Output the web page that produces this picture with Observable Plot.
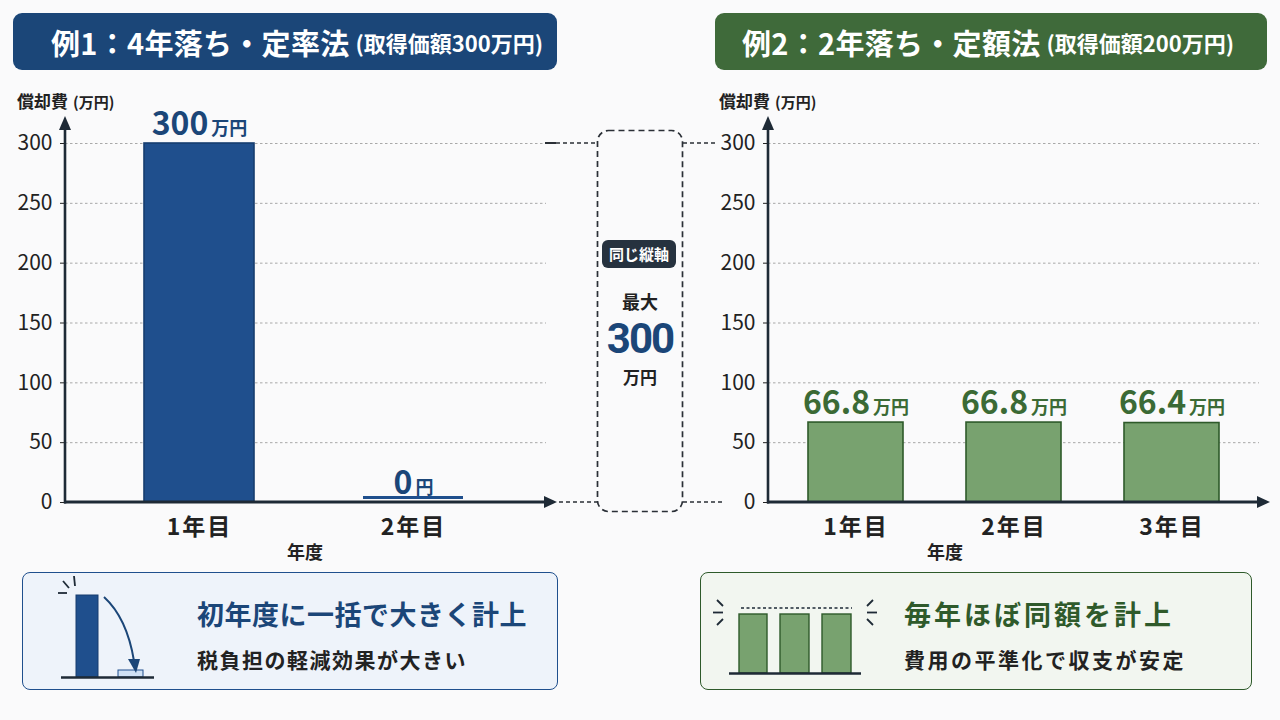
<!DOCTYPE html>
<html lang="ja">
<head>
<meta charset="utf-8">
<script src="https://cdn.jsdelivr.net/npm/d3@7"></script>
<script src="https://cdn.jsdelivr.net/npm/@observablehq/plot@0.6"></script>
<style>
  html, body { margin: 0; padding: 0; }
  body { width: 1280px; height: 720px; position: relative; overflow: hidden; background: #fafafb;
         font-family: "Noto Sans CJK JP", "Noto Sans", sans-serif; color: #222; }
  .abs { position: absolute; }
  .banner { position: absolute; top: 13px; height: 57px; border-radius: 9px; color: #fff; font-weight: 700;
            display: flex; align-items: center; box-sizing: border-box; white-space: nowrap; }
  .banner .main { font-size: 29px; letter-spacing: 0.3px; }
  .banner .sub { font-size: 22px; margin-left: 6px; }
  .ylab { position: absolute; top: 88px; font-weight: 700; font-size: 17px; white-space: nowrap; color: #222; }
  .ylab span { font-size: 15px; margin-left: 5px; }
  .xlab { position: absolute; top: 538px; font-weight: 700; font-size: 18px; color: #222; transform: translateX(-50%); }
  .card { position: absolute; top: 572px; height: 118px; border-radius: 8px; box-sizing: border-box; border: 1.5px solid; }
  .card .h { position: absolute; top: 21px; font-size: 27px; font-weight: 700; white-space: nowrap; }
  .card .s { position: absolute; top: 71px; font-size: 21px; font-weight: 700; white-space: nowrap; color: #222; }
  #mid { position: absolute; left: 597px; top: 130px; width: 86px; height: 382px; box-sizing: border-box; text-align: center; }
  #mid div { line-height: 1; }
  #mid .badge { position: absolute; left: 5px; top: 110px; width: 74px; height: 28px; background: #26323f; color: #fff;
                border-radius: 6px; font-size: 15px; font-weight: 700; line-height: 28px; }
  #mid .t1 { position: absolute; left: 0; right: 0; top: 162px; font-size: 18px; font-weight: 700; }
  #mid .big { position: absolute; left: 0; right: 0; top: 188px; font-size: 42px; font-weight: 700; color: #1b4678;
              letter-spacing: -2px; font-family: Roboto, "Noto Sans", sans-serif; }
  #mid .t2 { position: absolute; left: 0; right: 0; top: 237.5px; font-size: 17px; font-weight: 700; }
</style>
</head>
<body>
<script>
// ---- data ----
const yearsLeft = ["1年目", "2年目"];
const valuesLeft = [300, 0];
const labelsLeft = ["300万円", "0円"];
const yearsRight = ["1年目", "2年目", "3年目"];
const valuesRight = [66.8, 66.8, 66.4];
const labelsRight = ["66.8万円", "66.8万円", "66.4万円"];
const yTicks = [0, 50, 100, 150, 200, 250, 300];
const yMax = 300;

const FONT = '"Noto Sans CJK JP", "Noto Sans", sans-serif';
const AXIS = "#1e2a36";

function addEl(html) {
  const t = document.createElement("template");
  t.innerHTML = html.trim();
  const el = t.content.firstChild;
  document.body.appendChild(el);
  return el;
}

function makeChart(cfg) {
  const data = cfg.years.map((y, i) => ({year: y, value: cfg.values[i], label: cfg.labels[i]}));
  const plot = Plot.plot({
    width: cfg.width, height: 460,
    marginTop: 33, marginBottom: 68, marginLeft: cfg.marginLeft, marginRight: cfg.marginRight,
    style: {background: "transparent", fontFamily: FONT, overflow: "visible"},
    x: {domain: cfg.years, paddingInner: cfg.padIn, paddingOuter: cfg.padOut, label: null},
    y: {domain: [0, yMax], label: null},
    marks: [
      Plot.ruleY(yTicks.filter(d => d > 0), {stroke: "#a8a8a8", strokeDasharray: "2.5,2.5", strokeWidth: 1}),
      Plot.barY(data.filter(d => d.value > 0), {x: "year", y: "value", fill: cfg.fill, stroke: cfg.stroke, strokeWidth: 1.6}),
      Plot.tickY(data.filter(d => d.value === 0), {x: "year", y: "value", stroke: cfg.fill, strokeWidth: 3, inset: 5, dy: -5}),
      Plot.axisY({ticks: yTicks, tickSize: 5, tickPadding: 8, fontSize: 21, color: "#222", tickFormat: d => d}),
      Plot.axisX({tickSize: 0, tickPadding: 16, fontSize: 23, fontWeight: 700, color: "#222"}),
      Plot.text(data, {x: "year", y: "value", text: "label", dy: -9, lineAnchor: "bottom", fill: cfg.labelColor, fontWeight: 700, fontSize: 32})
    ]
  });
  plot.style.position = "absolute";
  plot.style.left = cfg.left + "px";
  plot.style.top = cfg.top + "px";
  document.body.appendChild(plot);

  // x tick labels: a little letter spacing like the reference
  d3.select(plot).selectAll('g[aria-label="x-axis tick label"] text').style("letter-spacing", "2px");

  // split value labels into number + unit
  d3.select(plot).selectAll('g[aria-label="text"] text').each(function () {
    const s = this.textContent;
    const m = s.match(/^([\d.]+)(.*)$/);
    if (!m) return;
    const t = d3.select(this);
    t.text("");
    t.append("tspan").attr("font-size", 32).text(m[1]);
    t.append("tspan").attr("font-size", 18).attr("dx", 3).text(m[2]);
  });

  // axis lines with arrowheads
  const y = plot.scale("y");
  const y0 = y.apply(0), yTop = y.apply(yMax);
  const xL = cfg.marginLeft, xR = cfg.width - cfg.marginRight;
  const svg = d3.select(plot);
  const g = svg.append("g");
  g.append("line").attr("x1", xL).attr("x2", xL).attr("y1", y0 + 1.5).attr("y2", yTop - 14)
    .attr("stroke", AXIS).attr("stroke-width", 2.6);
  g.append("path").attr("d", `M${xL},${yTop - 27} L${xL - 6},${yTop - 13} L${xL + 6},${yTop - 13} Z`).attr("fill", AXIS);
  g.append("line").attr("x1", xL - 1).attr("x2", xR + 1).attr("y1", y0).attr("y2", y0)
    .attr("stroke", AXIS).attr("stroke-width", 3);
  g.append("path").attr("d", `M${xR + 11},${y0} L${xR - 2},${y0 - 6} L${xR - 2},${y0 + 6} Z`).attr("fill", AXIS);
  return {plot, y0: cfg.top + y0, yTop: cfg.top + yTop, xEnd: cfg.left + xR + 11};
}

// ---- banners & labels ----
addEl(`<div class="banner" style="left:13px;width:544px;background:#1b4678;padding-left:38px;">
  <span class="main">例1：4年落ち・定率法</span><span class="sub">(取得価額300万円)</span></div>`);
addEl(`<div class="banner" style="left:715px;width:552px;background:#3f6a3a;padding-left:27px;">
  <span class="main">例2：2年落ち・定額法</span><span class="sub">(取得価額200万円)</span></div>`);
addEl(`<div class="ylab" style="left:17px;">償却費<span>(万円)</span></div>`);
addEl(`<div class="ylab" style="left:719px;">償却費<span>(万円)</span></div>`);

const L = makeChart({years: yearsLeft, values: valuesLeft, labels: labelsLeft, left: 0, top: 110, width: 560,
  marginLeft: 65, marginRight: 14, padIn: 0.488, padOut: 0.363, fill: "#1f4f8d", stroke: "#163d6f", labelColor: "#1b4678"});
const R = makeChart({years: yearsRight, values: valuesRight, labels: labelsRight, left: 700, top: 110, width: 580,
  marginLeft: 68, marginRight: 21, padIn: 0.40, padOut: 0.252, fill: "#78a26f", stroke: "#2e5a2a", labelColor: "#3b6a35"});

addEl(`<div class="xlab" style="left:305px;">年度</div>`);
addEl(`<div class="xlab" style="left:945px;">年度</div>`);

// ---- middle box ----
addEl(`<div id="mid"><div class="badge">同じ縦軸</div><div class="t1">最大</div><div class="big">300</div><div class="t2">万円</div></div>`);

// connectors + dashed frame
const conn = d3.select(document.body).append("svg").attr("width", 1280).attr("height", 720)
  .style("position", "absolute").style("left", 0).style("top", 0).style("pointer-events", "none");
conn.append("rect").attr("x", 597.5).attr("y", 130.5).attr("width", 85).attr("height", 381).attr("rx", 11)
  .attr("fill", "none").attr("stroke", "#2a2f36").attr("stroke-width", 1.7).attr("stroke-dasharray", "6,4");
const dash = (x1, x2, yv) => conn.append("line").attr("x1", x1).attr("x2", x2).attr("y1", yv).attr("y2", yv)
  .attr("stroke", "#2a2f36").attr("stroke-width", 1.7).attr("stroke-dasharray", "4,3");
conn.append("line").attr("x1", 545).attr("x2", 556).attr("y1", L.yTop).attr("y2", L.yTop).attr("stroke", "#2a2f36").attr("stroke-width", 2);
dash(556, 597, L.yTop);
dash(L.xEnd + 2, 597, L.y0);
dash(683, 717, R.yTop);
dash(683, 722, R.y0);

// ---- bottom cards ----
addEl(`<div class="card" style="left:22px;width:536px;background:#eef3fa;border-color:#1f4f8d;">
  <svg class="abs" style="left:0;top:0" width="160" height="118">
    <line x1="40" y1="8" x2="46" y2="15" stroke="#1e2a36" stroke-width="1.8"/>
    <line x1="51" y1="3" x2="52" y2="13" stroke="#1e2a36" stroke-width="1.8"/>
    <line x1="35" y1="20" x2="44" y2="20" stroke="#1e2a36" stroke-width="1.8"/>
    <rect x="53" y="22" width="22" height="82" fill="#1f4f8d" stroke="#163d6f" stroke-width="1"/>
    <rect x="95" y="97" width="25" height="7" fill="#cfe0f4" stroke="#1f4f8d" stroke-width="1"/>
    <line x1="38" y1="104.5" x2="131" y2="104.5" stroke="#1e2a36" stroke-width="2.5"/>
    <path d="M81,24 Q104,45 111,88" fill="none" stroke="#1b4678" stroke-width="2"/>
    <path d="M113,100 L105,86 L117,86 Z" fill="#1b4678"/>
  </svg>
  <div class="h" style="left:174px;color:#1b4678;letter-spacing:0.5px;">初年度に一括で大きく計上</div>
  <div class="s" style="left:174px;letter-spacing:1.5px;">税負担の軽減効果が大きい</div>
</div>`);

addEl(`<div class="card" style="left:700px;width:552px;background:#f2f6f0;border-color:#2e5a2a;">
  <svg class="abs" style="left:0;top:0" width="190" height="118">
    <line x1="16" y1="27" x2="22" y2="33" stroke="#1e2a36" stroke-width="1.8"/>
    <line x1="12" y1="39.5" x2="22" y2="39.5" stroke="#1e2a36" stroke-width="1.8"/>
    <line x1="16" y1="52" x2="22" y2="46" stroke="#1e2a36" stroke-width="1.8"/>
    <line x1="172" y1="27" x2="166" y2="33" stroke="#1e2a36" stroke-width="1.8"/>
    <line x1="176" y1="39.5" x2="166" y2="39.5" stroke="#1e2a36" stroke-width="1.8"/>
    <line x1="172" y1="52" x2="166" y2="46" stroke="#1e2a36" stroke-width="1.8"/>
    <line x1="40" y1="35" x2="151" y2="35" stroke="#1e2a36" stroke-width="1.5" stroke-dasharray="3,2.5"/>
    <rect x="38" y="41" width="28" height="59" fill="#78a26f" stroke="#2e5a2a" stroke-width="1.4"/>
    <rect x="79" y="41" width="29" height="59" fill="#78a26f" stroke="#2e5a2a" stroke-width="1.4"/>
    <rect x="121" y="41" width="29" height="59" fill="#78a26f" stroke="#2e5a2a" stroke-width="1.4"/>
    <line x1="28" y1="100.5" x2="160" y2="100.5" stroke="#1e2a36" stroke-width="2.5"/>
  </svg>
  <div class="h" style="left:203px;color:#2f5a2b;letter-spacing:3px;">毎年ほぼ同額を計上</div>
  <div class="s" style="left:203px;letter-spacing:2.5px;">費用の平準化で収支が安定</div>
</div>`);
</script>
</body>
</html>
